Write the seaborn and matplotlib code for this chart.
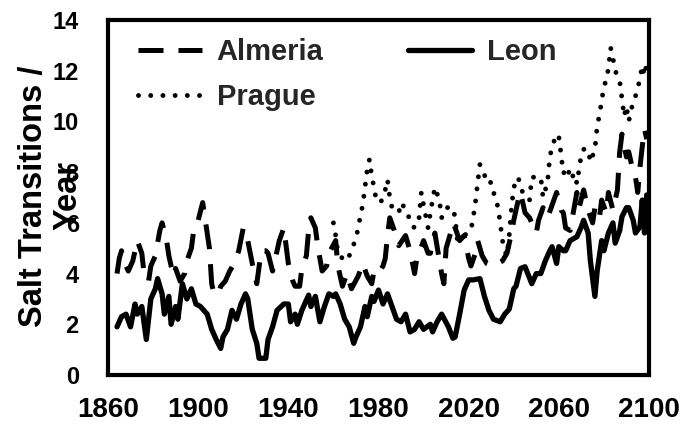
import matplotlib
matplotlib.use("Agg")
import matplotlib.pyplot as plt
import seaborn as sns
import pandas as pd

# ---------------- data ----------------
leon_years = [1864, 1866, 1868, 1870, 1872, 1873, 1875, 1877, 1879, 1881, 1882, 1884, 1885, 1887,
              1888, 1890, 1891, 1893, 1895, 1897, 1899, 1901, 1904, 1906, 1908, 1910, 1911, 1913,
              1915, 1917, 1919, 1921, 1922, 1924, 1926, 1927, 1930, 1931, 1933, 1935, 1938, 1940,
              1941, 1943, 1944, 1946, 1949, 1950, 1952, 1954, 1956, 1958, 1960, 1961, 1963, 1965,
              1967, 1969, 1970, 1972, 1974, 1975, 1977, 1978, 1980, 1982, 1984, 1986, 1988, 1990,
              1992, 1994, 1996, 1998, 2000, 2003, 2004, 2006, 2008, 2011, 2013, 2014, 2016, 2018,
              2020, 2022, 2025, 2027, 2029, 2031, 2034, 2036, 2038, 2040, 2041, 2043, 2045, 2048,
              2050, 2052, 2054, 2056, 2057, 2059, 2060, 2062, 2063, 2065, 2068, 2070, 2071, 2073,
              2074, 2076, 2077, 2079, 2080, 2082, 2084, 2085, 2087, 2088, 2090, 2091, 2093, 2094,
              2096, 2097, 2098, 2099]
leon_vals = [1.9, 2.3, 2.4, 1.9, 2.8, 2.4, 2.7, 1.4, 3.0, 3.4, 3.8, 3.2, 2.4, 3.1,
             2.0, 2.7, 2.2, 3.6, 3.0, 3.4, 2.8, 2.7, 2.4, 1.8, 1.4, 1.05, 1.5, 1.8,
             2.55, 2.2, 2.8, 3.2, 3.0, 1.8, 1.25, 0.66, 0.66, 1.4, 1.9, 2.55, 2.8, 2.8,
             2.1, 2.4, 2.0, 2.55, 3.15, 2.7, 3.1, 2.1, 2.7, 3.2, 3.1, 3.2, 2.8, 2.2,
             1.9, 1.25, 1.5, 1.9, 2.7, 2.3, 3.1, 2.9, 3.35, 2.8, 3.2, 2.7, 2.2, 2.1,
             2.4, 1.7, 1.8, 2.1, 1.8, 2.0, 1.7, 2.1, 2.4, 1.9, 1.45, 1.5, 2.4, 3.35,
             3.75, 3.75, 3.8, 3.1, 2.55, 2.2, 2.1, 2.4, 2.6, 3.4, 3.5, 4.2, 4.27, 3.6,
             4.0, 4.0, 4.5, 4.9, 5.06, 4.4, 5.06, 4.9, 4.9, 5.3, 5.45, 5.85, 6.1, 5.6,
             4.5, 3.1, 4.1, 5.3, 4.9, 5.6, 6.0, 5.2, 5.7, 6.24, 6.6, 6.6, 6.1, 5.6,
             5.85, 6.9, 5.6, 7.1]

almeria_years = [1864, 1865, 1866, 1867, 1869, 1871, 1873, 1875, 1876, 1878, 1879, 1881, 1883,
                 1884, 1886, 1887, 1889, 1890, 1892, 1894, 1895, 1897, 1898, 1900, 1902, 1903,
                 1905, 1906, 1907, 1909, 1910, 1912, 1914, 1916, 1918, 1920, 1922, 1924, 1926,
                 1928, 1930, 1931, 1933, 1936, 1938, 1940, 1942, 1943, 1945, 1946, 1948, 1949,
                 1950, 1952, 1953, 1955, 1957, 1958, 1961, 1962, 1964, 1966, 1968, 1971, 1973,
                 1975, 1977, 1978, 1980, 1982, 1983, 1984, 1985, 1987, 1989, 1992, 1994, 1996,
                 1997, 1998, 2000, 2002, 2003, 2005, 2008, 2009, 2010, 2012, 2013, 2014, 2016,
                 2018, 2020, 2021, 2023, 2024, 2026, 2028, 2031, 2035, 2037, 2039, 2040, 2042,
                 2043, 2045, 2047, 2049, 2050, 2051, 2053, 2055, 2059, 2061, 2062, 2063, 2065,
                 2066, 2068, 2069, 2071, 2073, 2075, 2076, 2078, 2079, 2081, 2082, 2084, 2086,
                 2087, 2088, 2089, 2090, 2091, 2093, 2094, 2095, 2096, 2097, 2098, 2099]
almeria_vals = [4.0, 4.6, 4.9, 4.5, 4.1, 4.5, 5.3, 4.8, 4.0, 3.7, 4.3, 4.7, 5.7,
                6.0, 5.3, 4.7, 3.9, 4.2, 3.7, 4.0, 4.5, 5.0, 5.7, 6.1, 6.8, 6.2,
                5.0, 3.6, 3.2, 3.2, 3.5, 3.7, 4.1, 4.4, 4.9, 5.8, 5.3, 4.4, 3.6,
                4.9, 4.9, 4.8, 4.1, 5.3, 5.8, 4.4, 3.7, 3.5, 3.5, 4.2, 4.7, 5.7,
                6.2, 5.8, 5.1, 4.1, 4.3, 4.8, 5.3, 4.3, 3.5, 4.0, 3.4, 3.9, 4.4,
                3.9, 3.6, 4.1, 4.0, 4.3, 4.6, 5.5, 6.2, 5.7, 5.1, 5.5, 4.9, 4.0,
                4.6, 4.8, 5.3, 4.8, 4.8, 5.6, 4.0, 3.6, 5.0, 5.6, 6.0, 5.8, 5.3,
                5.5, 4.6, 4.3, 4.8, 5.3, 4.7, 4.4, 4.3, 4.5, 4.8, 5.6, 6.1, 6.9,
                7.2, 6.4, 6.2, 5.8, 5.6, 6.1, 6.6, 6.2, 7.2, 6.5, 6.4, 5.8, 5.7,
                6.2, 7.2, 6.6, 7.3, 6.5, 6.0, 6.6, 6.2, 6.9, 6.4, 7.2, 6.5, 7.3,
                8.8, 9.5, 9.0, 8.6, 8.8, 8.0, 7.8, 7.2, 8.2, 9.0, 9.7, 9.3]

prague_years = [1960, 1961, 1962, 1964, 1966, 1968, 1970, 1971, 1972, 1973, 1974, 1975, 1976,
                1977, 1978, 1979, 1981, 1983, 1984, 1985, 1986, 1989, 1990, 1993, 1994, 1996,
                1998, 1999, 2000, 2002, 2003, 2005, 2007, 2008, 2010, 2013, 2014, 2015, 2018,
                2021, 2022, 2023, 2024, 2025, 2027, 2028, 2030, 2031, 2032, 2033, 2034, 2035,
                2036, 2037, 2038, 2039, 2040, 2042, 2043, 2045, 2047, 2048, 2050, 2052, 2053,
                2055, 2056, 2057, 2059, 2060, 2061, 2062, 2064, 2065, 2067, 2068, 2070, 2071,
                2073, 2074, 2076, 2077, 2078, 2079, 2080, 2081, 2082, 2083, 2084, 2085, 2087,
                2088, 2089, 2090, 2091, 2093, 2094, 2095, 2096, 2097, 2098, 2099]
prague_vals = [6.0, 5.5, 4.8, 4.6, 4.5, 4.9, 5.4, 5.8, 6.3, 6.7, 7.4, 8.1, 8.5,
               7.85, 7.4, 6.9, 6.8, 7.3, 7.7, 7.0, 6.6, 6.4, 6.8, 6.4, 6.0, 5.8,
               6.2, 7.2, 6.7, 5.8, 6.4, 7.4, 6.9, 6.2, 6.6, 6.6, 6.2, 5.3, 5.5,
               5.7, 6.2, 6.8, 7.6, 8.3, 7.9, 7.55, 7.6, 7.2, 7.0, 6.6, 6.0, 5.3,
               4.9, 4.7, 5.5, 6.6, 7.4, 7.8, 7.4, 7.0, 6.9, 7.8, 7.8, 7.8, 7.0,
               7.6, 8.6, 9.0, 9.5, 9.4, 8.7, 7.95, 8.2, 7.7, 7.95, 7.55, 8.7, 8.9,
               8.9, 8.4, 8.9, 9.8, 10.25, 10.8, 11.4, 11.6, 12.1, 12.9, 12.5, 12.0, 11.6,
               10.9, 10.2, 10.6, 10.0, 10.8, 11.0, 11.3, 11.7, 12.2, 11.8, 12.3]

x_ticks = [1860, 1900, 1940, 1980, 2020, 2060, 2100]
y_ticks = [0, 2, 4, 6, 8, 10, 12, 14]
y_label = "Salt Transitions /\nYear"

# ---------------- figure ----------------
sns.set_theme(style="white")
plt.rcParams["font.family"] = ["Liberation Sans", "DejaVu Sans"]
plt.rcParams["font.weight"] = "bold"

fig = plt.figure(figsize=(6.88, 4.28), dpi=100)
ax = fig.add_axes([108 / 688, 53 / 428, 541 / 688, 355 / 428])

almeria = pd.DataFrame({"year": almeria_years, "value": almeria_vals})
leon = pd.DataFrame({"year": leon_years, "value": leon_vals})
prague = pd.DataFrame({"year": prague_years, "value": prague_vals})

sns.lineplot(data=almeria, x="year", y="value", ax=ax, color="black", lw=3.6,
             linestyle=(0, (5.0, 3.0)), dash_capstyle="butt", label="Almeria")
sns.lineplot(data=leon, x="year", y="value", ax=ax, color="black", lw=3.8,
             label="Leon", solid_joinstyle="round")
sns.lineplot(data=prague, x="year", y="value", ax=ax, color="black", lw=3.5,
             linestyle=(0, (0.01, 2.5)), dash_capstyle="round", label="Prague")

ax.set_xlim(1860, 2100)
ax.set_ylim(0, 14)
ax.set_xticks(x_ticks)
ax.set_yticks(y_ticks)
ax.set_xticklabels([str(t) for t in x_ticks], fontsize=20, fontweight="bold")
ax.set_yticklabels([str(t) for t in y_ticks], fontsize=17, fontweight="bold")
ax.tick_params(axis="both", direction="in", length=6, width=3, color="black",
               labelcolor="black")
ax.tick_params(axis="x", pad=16)
ax.tick_params(axis="y", pad=21)
ax.set_xlabel("")
ax.set_ylabel(y_label, fontsize=23.5, fontweight="bold", color="black",
              va="center", ha="center", linespacing=1.15)
ax.yaxis.set_label_coords((51 - 108) / 541, (375 - 196) / 355)

for s in ax.spines.values():
    s.set_visible(True)
    s.set_color("black")
    s.set_linewidth(3)

handles, labels = ax.get_legend_handles_labels()
order = [labels.index("Almeria"), labels.index("Prague"), labels.index("Leon")]
ax.legend([handles[i] for i in order], [labels[i] for i in order],
          ncol=2, loc="upper left", bbox_to_anchor=(0.055, 0.95), frameon=False,
          prop={"family": "Liberation Sans", "weight": "bold", "size": 21},
          handlelength=2.2, handletextpad=0.5, columnspacing=2.9, labelspacing=0.6,
          borderpad=0.0, borderaxespad=0.0)

fig.savefig("out.png", dpi=100, facecolor="white")
